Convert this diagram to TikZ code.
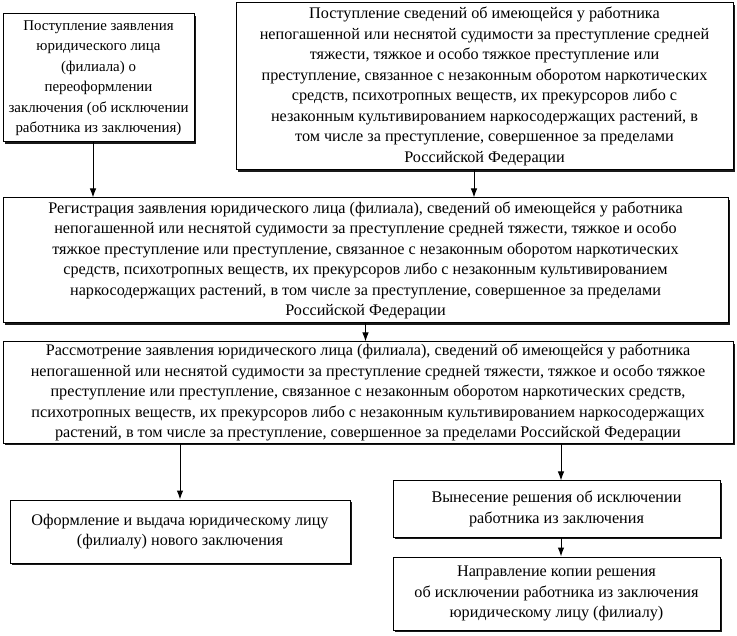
\documentclass[tikz,border=0pt]{standalone}
\usepackage{fontspec}
\setmainfont{Liberation Serif}
\usetikzlibrary{shapes,arrows.meta,positioning,shadows}
\tikzset{
    block/.style={rectangle, draw, fill=white, align=center, inner sep=2pt, font=\fontsize{16.2}{20.5}\selectfont, line width=1pt, drop shadow={shadow xshift=1.6pt, shadow yshift=-1.6pt, fill=black, opacity=0.9}},
    line/.style={draw, -{Latex[length=9pt,width=6.5pt]}, line width=1pt}
}
\begin{document}
\begin{tikzpicture}[x=1pt, y=-1pt]
    \useasboundingbox (0,0) rectangle (737,636);
    \node [block, minimum width=191pt, minimum height=128pt, font=\fontsize{14.9}{20.5}\selectfont] (zayav) at (98.5,78) {Поступление заявления\\юридического лица\\(филиала) о\\переоформлении\\заключения (об исключении\\работника из заключения)};
    \node [block, minimum width=497pt, minimum height=167pt] (sved) at (484.5,86.5) {Поступление сведений об имеющейся у работника\\непогашенной или неснятой судимости за преступление средней\\тяжести, тяжкое и особо тяжкое преступление или\\преступление, связанное с незаконным оборотом наркотических\\средств, психотропных веществ, их прекурсоров либо с\\незаконным культивированием наркосодержащих растений, в\\том числе за преступление, совершенное за пределами\\Российской Федерации};
    \node [block, minimum width=725pt, minimum height=125pt] (reg) at (365.5,260.5) {Регистрация заявления юридического лица (филиала), сведений об имеющейся у работника\\непогашенной или неснятой судимости за преступление средней тяжести, тяжкое и особо\\тяжкое преступление или преступление, связанное с незаконным оборотом наркотических\\средств, психотропных веществ, их прекурсоров либо с незаконным культивированием\\наркосодержащих растений, в том числе за преступление, совершенное за пределами\\Российской Федерации};
    \node [block, minimum width=730pt, minimum height=95pt] (rassm) at (368,392.5) {Рассмотрение заявления юридического лица (филиала), сведений об имеющейся у работника\\непогашенной или неснятой судимости за преступление средней тяжести, тяжкое и особо тяжкое\\преступление или преступление, связанное с незаконным оборотом наркотических средств,\\психотропных веществ, их прекурсоров либо с незаконным культивированием наркосодержащих\\растений, в том числе за преступление, совершенное за пределами Российской Федерации};
    \node [block, minimum width=340pt, minimum height=63pt] (vydacha) at (180,531.5) {Оформление и выдача юридическому лицу\\(филиалу) нового заключения};
    \node [block, minimum width=327pt, minimum height=56pt] (reshenie) at (556.5,509) {Вынесение решения об исключении\\работника из заключения};
    \node [block, minimum width=327pt, minimum height=73pt] (kopiya) at (556.5,593.5) {Направление копии решения\\об исключении работника из заключения\\юридическому лицу (филиалу)};

    \path [line] ([xshift=-5.5pt]zayav.south) -- ([xshift=-5.5pt]zayav.south |- reg.north);
    \path [line] ([xshift=-10.5pt]sved.south) -- ([xshift=-10.5pt]sved.south |- reg.north);
    \path [line] (reg.south) -- (reg.south |- rassm.north);
    \path [line] (vydacha.north |- rassm.south) -- (vydacha.north);
    \path [line] ([xshift=4.5pt]reshenie.north |- rassm.south) -- ([xshift=4.5pt]reshenie.north);
    \path [line] ([xshift=4.5pt]reshenie.south) -- ([xshift=4.5pt]kopiya.north);
\end{tikzpicture}
\end{document}
